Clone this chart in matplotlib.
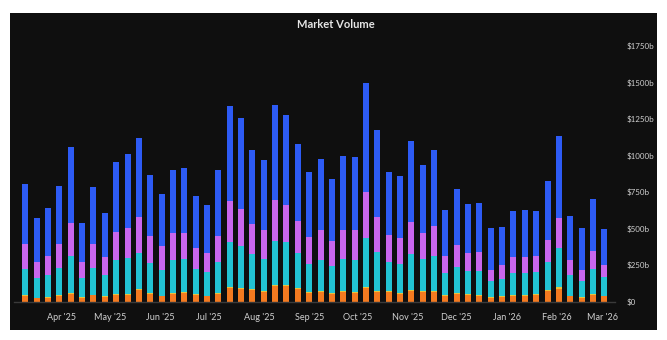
import matplotlib
matplotlib.use('Agg')
import matplotlib.pyplot as plt
import matplotlib.dates as mdates
from matplotlib.patches import Rectangle
import pandas as pd
import numpy as np

# weekly buckets, Mar 2025 - Mar 2026, values in $b
weeks = pd.date_range('2025-03-10', periods=52, freq='7D')

orange = [38, 23, 28, 40, 55, 28, 43, 34, 46, 46, 79, 55, 36, 55, 62, 45, 36, 53,
          94, 86, 77, 64, 105, 105, 86, 58, 64, 53, 68, 60, 93, 68, 64, 55, 73, 64,
          68, 40, 51, 45, 40, 26, 32, 40, 40, 45, 73, 90, 36, 26, 45, 36]
yellow = [5, 4, 4, 5, 6, 4, 5, 5, 6, 6, 7, 6, 5, 6, 6, 5, 5, 6,
          8, 7, 7, 6, 9, 9, 7, 6, 6, 6, 7, 6, 9, 7, 6, 6, 7, 6,
          7, 5, 6, 5, 5, 4, 4, 5, 5, 5, 7, 8, 5, 4, 5, 5]
teal = [184, 132, 148, 189, 255, 127, 186, 141, 232, 246, 250, 205, 179, 221, 221, 175, 159, 211,
        309, 286, 241, 225, 302, 297, 243, 197, 212, 182, 220, 216, 336, 268, 203, 196, 247, 219,
        241, 148, 179, 157, 162, 109, 121, 148, 148, 150, 195, 272, 143, 109, 177, 125]
magenta = [168, 114, 134, 164, 220, 111, 161, 129, 191, 209, 243, 184, 159, 186, 184, 143, 134, 180,
           277, 255, 204, 193, 279, 252, 218, 180, 206, 175, 198, 211, 314, 236, 186, 179, 216, 179,
           202, 121, 155, 129, 134, 79, 95, 114, 114, 111, 148, 203, 100, 77, 118, 84]
blue = [412, 300, 324, 393, 525, 271, 391, 300, 482, 502, 541, 420, 355, 436, 445, 352, 327, 454,
        648, 620, 509, 482, 650, 616, 525, 445, 487, 422, 504, 500, 743, 598, 427, 421, 557, 468,
        518, 315, 381, 330, 336, 286, 259, 313, 318, 309, 406, 563, 302, 288, 355, 250]

series = [orange, yellow, teal, magenta, blue]
colors = ['#f47a20', '#e8c43a', '#22c3d3', '#c966ee', '#2d5bf5']

bg = '#0f0f0f'
plt.rcParams['font.family'] = ['Lato', 'DejaVu Sans']

fig = plt.figure(figsize=(6.67, 3.4), dpi=100, facecolor='white')
fig.patches.append(Rectangle((10/667, 10/340), 647/667, 317/340,
                             transform=fig.transFigure, facecolor=bg, edgecolor='none', zorder=-5))

ax = fig.add_axes([14/667, 38.3/340, 601/667, 255.7/340])
ax.set_facecolor(bg)

bottom = np.zeros(len(weeks))
for vals, c in zip(series, colors):
    ax.bar(weeks, vals, width=3.7, bottom=bottom, color=c, linewidth=0, zorder=2)
    bottom += np.array(vals)

ax.set_xlim(weeks[0] - pd.Timedelta(days=7), weeks[-1] + pd.Timedelta(days=6.6))
ax.set_ylim(0, 1750)

ax.set_xticks(pd.date_range('2025-04-01', '2026-03-01', freq='MS'))
ax.xaxis.set_major_formatter(mdates.DateFormatter("%b '%y"))

ax.set_yticks(range(0, 1751, 250))
ax.yaxis.set_major_formatter(lambda v, p: f'${int(v)}b' if v else '$0')
ax.yaxis.tick_right()

ax.tick_params(axis='both', length=0, colors='#d0d0d0')
ax.tick_params(axis='x', pad=8, labelsize=6.5)
ax.tick_params(axis='y', pad=8.5, labelsize=5.8)

for s in ['top', 'left', 'right']:
    ax.spines[s].set_visible(False)
ax.spines['bottom'].set_color('#3a3a3a')
ax.spines['bottom'].set_linewidth(1)

fig.text(0.503, 1 - 25/340, 'Market Volume', ha='center', va='center',
         color='#e6e6e6', fontsize=8, fontweight='bold')

plt.savefig('out.png', dpi=100, facecolor='white')
